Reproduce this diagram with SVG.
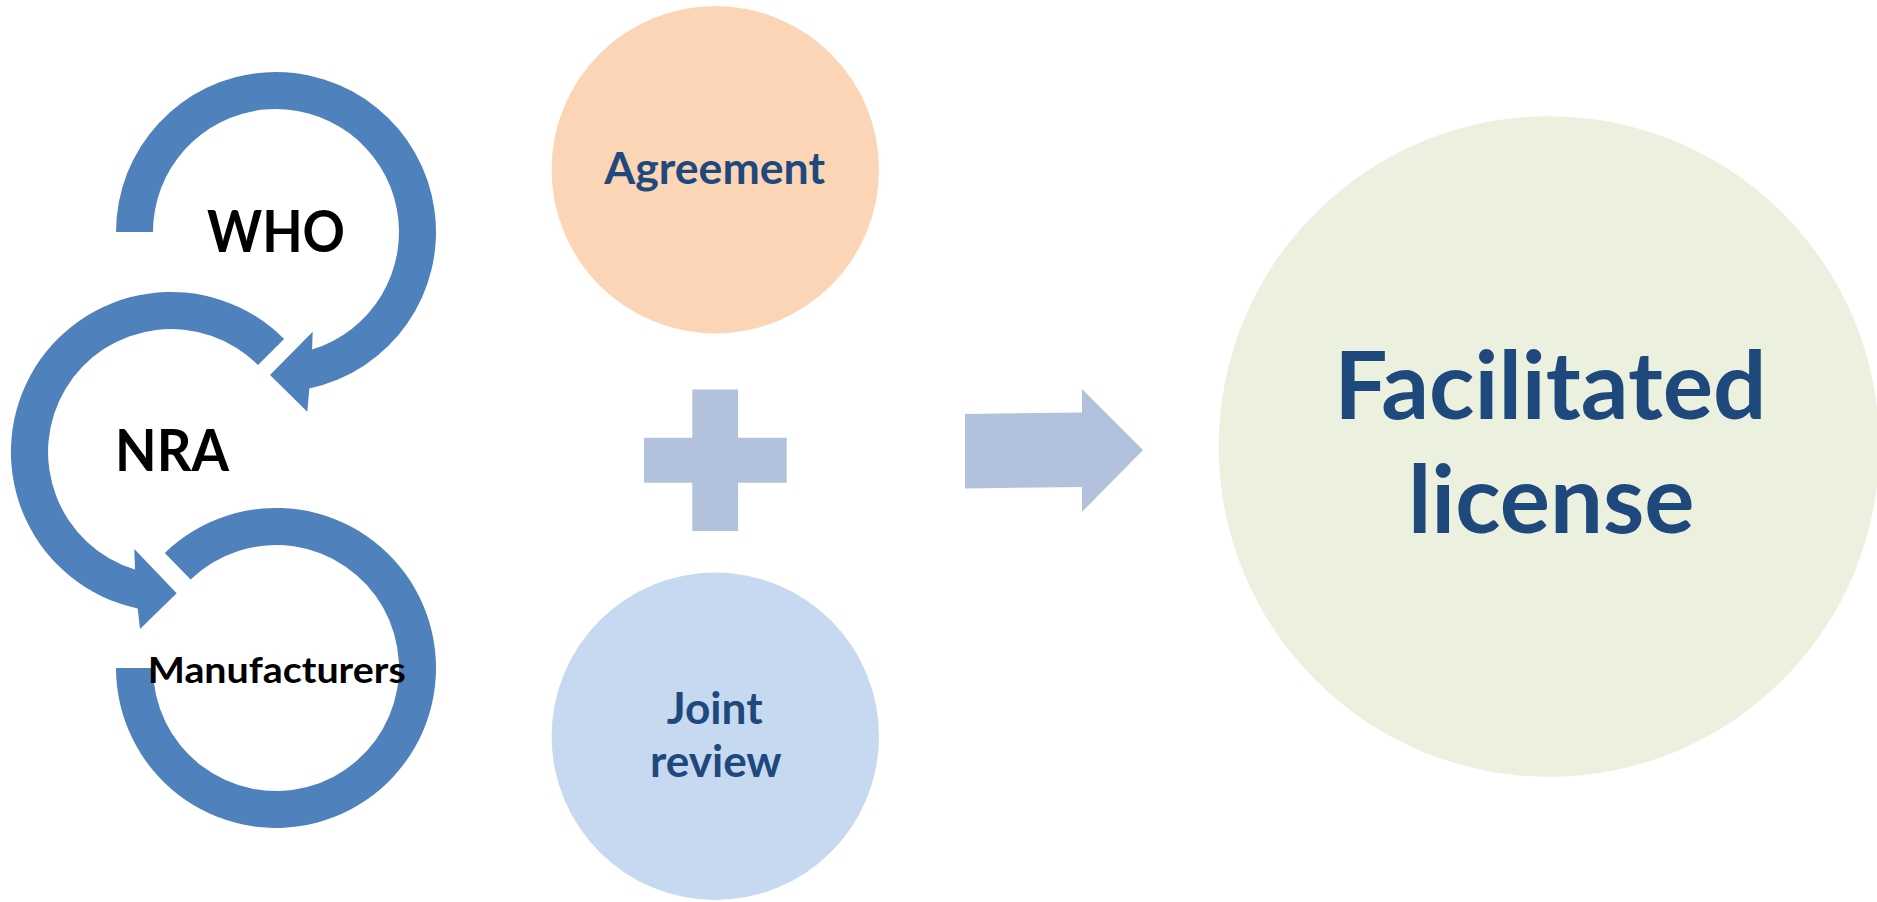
<svg xmlns="http://www.w3.org/2000/svg" width="1877" height="902" viewBox="0 0 1877 902">
<style>
.arc{fill:#4F81BD;}
.lbl{font-family:Lato,"Open Sans","Liberation Sans",sans-serif;font-weight:bold;}
.blk{fill:#000000;}
.blu{fill:#1F497D;}
.sym{fill:#B2C1DC;}
</style>
<rect x="0" y="0" width="1877" height="902" fill="#FFFFFF"/>
<g id="connectors">
<path id="plus" class="sym" d="M692.3 389.4 H738 V437.8 H786.7 V482.7 H738 V531 H692.3 V482.7 H644 V437.8 H692.3 Z"/>
<path id="arrow" class="sym" d="M965 414 L1082 412.5 L1082 389 L1143 450 L1082 512 L1082 487 L965 488.5 Z"/>
</g>
<g id="who">
<path class="arc" d="M116 232 A160 160 0 1 1 309.3 388.5 L307.3 411.7 L270 375 L312.7 331.7 L312.1 349.6 A123 123 0 1 0 153 232 Z"/>
<text class="lbl blk" x="207" y="251.7" font-size="57" textLength="138" lengthAdjust="spacingAndGlyphs">WHO</text>
</g>
<g id="nra">
<path class="arc" d="M284.1 338.9 A160 160 0 1 0 137.7 608.5 L140 629 L176.7 593.3 L134.3 549 L135 569.6 A123 123 0 1 1 258 365 Z"/>
<text class="lbl blk" x="115" y="470.7" font-size="57" textLength="114" lengthAdjust="spacingAndGlyphs">NRA</text>
</g>
<g id="manufacturers">
<path class="arc" d="M164.8 552.9 A160 160 0 1 1 116 668 L153 668 A123 123 0 1 0 190.6 579.5 Z"/>
<text class="lbl blk" x="147.7" y="683" font-size="36.5" textLength="258" lengthAdjust="spacingAndGlyphs">Manufacturers</text>
</g>
<g id="agreement">
<circle cx="715.3" cy="169.7" r="163.7" fill="#FBD5B5"/>
<text class="lbl blu" x="604.3" y="184" font-size="43" textLength="220.7" lengthAdjust="spacingAndGlyphs">Agreement</text>
</g>
<g id="joint-review">
<circle cx="715.3" cy="736.3" r="163.7" fill="#C6D9F0"/>
<text class="lbl blu" x="666.7" y="724" font-size="43" textLength="96" lengthAdjust="spacingAndGlyphs">Joint</text>
<text class="lbl blu" x="650" y="777.3" font-size="43" textLength="131.7" lengthAdjust="spacingAndGlyphs">review</text>
</g>
<g id="facilitated-license">
<circle cx="1549" cy="446.5" r="330.3" fill="#EBF1DE"/>
<text class="lbl blu" x="1334.3" y="419" font-size="94" textLength="432.2" lengthAdjust="spacingAndGlyphs">Facilitated</text>
<text class="lbl blu" x="1408" y="532.7" font-size="94" textLength="286.4" lengthAdjust="spacingAndGlyphs">license</text>
</g>
</svg>
